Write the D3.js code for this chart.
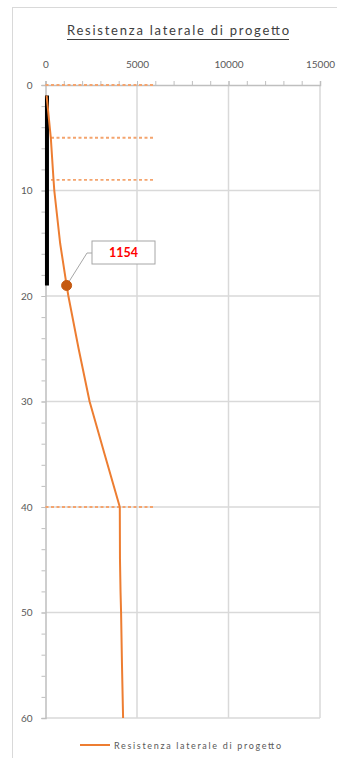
<!DOCTYPE html>
<html>
<head>
<meta charset="utf-8">
<script src="https://cdn.jsdelivr.net/npm/d3@7"></script>
<style>
  html, body { margin: 0; padding: 0; background: #fff; }
  svg { display: block; }
  text { font-family: Lato, "Liberation Sans", sans-serif; }
</style>
</head>
<body>
<svg id="chart" width="337" height="758"></svg>
<script>
// Depth (m) and design lateral resistance along the pile
const depths     = [1, 5, 9, 10, 15, 19, 20, 25, 30, 35, 40, 45, 48, 50, 55, 60];
const resistance = [60, 290, 440, 480, 800, 1154, 1250, 1810, 2410, 3230, 4060, 4070, 4100, 4130, 4180, 4240];

// Soil layer boundaries (m) drawn as dotted markers
const layerDepths = [0, 5, 9, 40];
const layerExtent = 6000;

// Pile shaft (m)
const pileTop = 1;
const pileBase = 19;
const pileX = 80;

// Highlighted point
const markDepth = 19;
const markValue = 1154;

// Axis ticks
const xTicks = [0, 5000, 10000, 15000];
const xMinor = d3.range(0, 15001, 1000);
const yTicks = [0, 10, 20, 30, 40, 50, 60];
const yMinor = d3.range(0, 61, 2);

const titleText = "Resistenza laterale di progetto";
const legendText = "Resistenza laterale di progetto";

const orange = "#ED7D31";
const grid = "#d9d9d9";
const axisCol = "#bfbfbf";
const labelCol = "#595959";

const svg = d3.select("#chart");

// chart frame
svg.append("rect")
  .attr("x", 12.5).attr("y", 7.5)
  .attr("width", 340).attr("height", 770)
  .attr("fill", "#fff").attr("stroke", "#d9d9d9").attr("stroke-width", 1);

const x = d3.scaleLinear().domain([0, 15000]).range([45.5, 320]);
const y = d3.scaleLinear().domain([0, 60]).range([85, 718]);

// title
svg.append("text")
  .attr("x", 178).attr("y", 35)
  .attr("text-anchor", "middle")
  .attr("font-size", 13)
  .attr("fill", "#404040")
  .attr("textLength", 222)
  .text(titleText);
svg.append("line")
  .attr("x1", 67).attr("x2", 289).attr("y1", 39.5).attr("y2", 39.5)
  .attr("stroke", "#404040").attr("stroke-width", 1.2);

// gridlines
svg.append("g").selectAll("line").data(xTicks.slice(1)).join("line")
  .attr("x1", d => x(d)).attr("x2", d => x(d))
  .attr("y1", y(0)).attr("y2", y(60))
  .attr("stroke", grid).attr("stroke-width", 1.5);
svg.append("g").selectAll("line").data(yTicks.slice(1)).join("line")
  .attr("x1", x(0)).attr("x2", x(15000))
  .attr("y1", d => y(d)).attr("y2", d => y(d))
  .attr("stroke", grid).attr("stroke-width", 1.5);

// top axis: minor ticks, then labelled major ticks
svg.append("g")
  .attr("transform", `translate(0,${y(0)})`)
  .call(d3.axisTop(x).tickValues(xMinor).tickSize(4).tickFormat(""))
  .call(g => g.select(".domain").remove())
  .call(g => g.selectAll("line").attr("stroke", axisCol));
svg.append("g")
  .attr("transform", `translate(0,${y(0)})`)
  .call(d3.axisTop(x).tickValues(xTicks).tickSize(4).tickPadding(13).tickFormat(d3.format("d")))
  .call(g => g.select(".domain").attr("stroke", axisCol).attr("stroke-width", 1.5))
  .call(g => g.selectAll("line").attr("stroke", axisCol))
  .call(g => g.selectAll("text").attr("fill", labelCol).attr("font-size", 10)
    .style("font-family", "Lato, 'Liberation Sans', sans-serif"));

// left axis
svg.append("g")
  .attr("transform", `translate(${x(0)},0)`)
  .call(d3.axisLeft(y).tickValues(yMinor).tickSize(4).tickFormat(""))
  .call(g => g.select(".domain").remove())
  .call(g => g.selectAll("line").attr("stroke", axisCol));
svg.append("g")
  .attr("transform", `translate(${x(0)},0)`)
  .call(d3.axisLeft(y).tickValues(yTicks).tickSize(4).tickPadding(9).tickFormat(d3.format("d")))
  .call(g => g.select(".domain").attr("stroke", axisCol).attr("stroke-width", 1.5))
  .call(g => g.selectAll("line").attr("stroke", axisCol))
  .call(g => g.selectAll("text").attr("fill", labelCol).attr("font-size", 10)
    .style("font-family", "Lato, 'Liberation Sans', sans-serif"));

// layer boundaries
svg.append("g").selectAll("line").data(layerDepths).join("line")
  .attr("x1", x(0)).attr("x2", x(layerExtent))
  .attr("y1", d => y(d)).attr("y2", d => y(d))
  .attr("stroke", "#F4A46E").attr("stroke-width", 1.8)
  .attr("stroke-dasharray", "3,2.5");

// pile shaft
svg.append("line")
  .attr("x1", x(pileX)).attr("x2", x(pileX))
  .attr("y1", y(pileTop)).attr("y2", y(pileBase))
  .attr("stroke", "#000").attr("stroke-width", 4);

// resistance profile (straight segments between computed depths)
const pts = depths.map((d, i) => [resistance[i], d]);
svg.append("path")
  .datum(pts)
  .attr("fill", "none")
  .attr("stroke", orange)
  .attr("stroke-width", 2)
  .attr("stroke-linejoin", "round")
  .attr("d", d3.line().x(d => x(d[0])).y(d => y(d[1])));

// highlighted point with callout
const mx = x(markValue), my = y(markDepth);
const bx = 92, by = 241, bw = 63, bh = 23;
svg.append("polyline")
  .attr("points", `${mx},${my} ${bx - 5},${by + 12} ${bx},${by + 12}`)
  .attr("fill", "none").attr("stroke", "#a6a6a6").attr("stroke-width", 1);
svg.append("circle")
  .attr("cx", mx).attr("cy", my).attr("r", 5)
  .attr("fill", "#C55A11").attr("stroke", "#C55A11");
svg.append("rect")
  .attr("x", bx).attr("y", by).attr("width", bw).attr("height", bh)
  .attr("fill", "#fff").attr("stroke", "#a6a6a6").attr("stroke-width", 1);
svg.append("text")
  .attr("x", bx + bw / 2).attr("y", by + bh / 2 + 4.5)
  .attr("text-anchor", "middle")
  .attr("font-size", 12.5).attr("font-weight", "bold")
  .attr("fill", "#FF0000")
  .text(d3.format("d")(markValue));

// legend
svg.append("line")
  .attr("x1", 80).attr("x2", 110).attr("y1", 745).attr("y2", 745)
  .attr("stroke", orange).attr("stroke-width", 2);
svg.append("text")
  .attr("x", 114).attr("y", 748.5)
  .attr("font-size", 9)
  .attr("fill", labelCol)
  .attr("textLength", 167)
  .text(legendText);
</script>
</body>
</html>
